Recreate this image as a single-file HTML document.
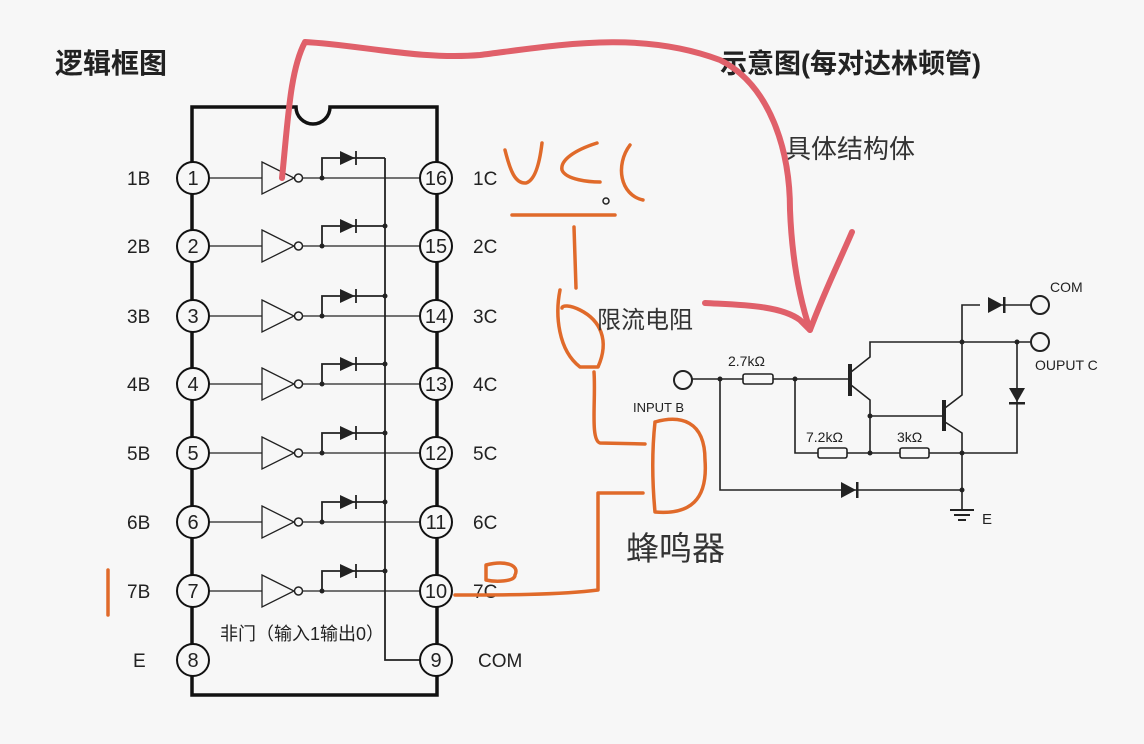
<!DOCTYPE html>
<html><head><meta charset="utf-8"><style>
html,body{margin:0;padding:0;background:#f7f7f7;}
svg{display:block;}
text{font-family:"Liberation Sans","Noto Sans CJK SC",sans-serif;}
</style></head><body>
<svg width="1144" height="744" viewBox="0 0 1144 744" xmlns="http://www.w3.org/2000/svg">
<rect width="1144" height="744" fill="#f7f7f7"/>
<defs>
<g id="gate" stroke="#222" fill="none">
<line x1="209" y1="0" x2="262" y2="0" stroke-width="1.3"/>
<polygon points="262,-16 294,0 262,16" stroke-width="1.3" fill="#f7f7f7"/>
<circle cx="298.5" cy="0" r="4" stroke-width="1.5" fill="#f7f7f7"/>
<line x1="302.5" y1="0" x2="420" y2="0" stroke-width="1.3"/>
<circle cx="322" cy="0" r="2.5" fill="#222" stroke="none"/>
<polyline points="322,0 322,-20 385,-20" stroke-width="1.8"/>
<polygon points="340,-27 340,-13 355,-20" fill="#222" stroke="none"/>
<line x1="356" y1="-27" x2="356" y2="-13" stroke-width="1.8"/>
</g>
</defs>
<!-- titles -->
<text x="55" y="73" font-size="28" font-weight="bold" fill="#222">逻辑框图</text>
<text x="720" y="73" font-size="27" font-weight="bold" fill="#222">示意图(每对达林顿管)</text>
<text x="785" y="158" font-size="26" fill="#333">具体结构体</text>
<!-- chip body -->
<path d="M192,107 L296,107 A17,17 0 0 0 330,107 L437,107 L437,695 L192,695 Z" fill="none" stroke="#111" stroke-width="3.5"/>
<!-- bus -->
<polyline points="385,158 385,660 420,660" fill="none" stroke="#222" stroke-width="1.8"/>
<use href="#gate" y="178"/>
<use href="#gate" y="246"/>
<use href="#gate" y="316"/>
<use href="#gate" y="384"/>
<use href="#gate" y="453"/>
<use href="#gate" y="522"/>
<use href="#gate" y="591"/>
<g fill="#222">
<circle cx="385" cy="226" r="2.5"/><circle cx="385" cy="296" r="2.5"/><circle cx="385" cy="364" r="2.5"/>
<circle cx="385" cy="433" r="2.5"/><circle cx="385" cy="502" r="2.5"/><circle cx="385" cy="571" r="2.5"/>
</g>
<!-- pin circles -->
<g fill="#f7f7f7" stroke="#111" stroke-width="2">
<circle cx="193" cy="178" r="16"/><circle cx="193" cy="246" r="16"/><circle cx="193" cy="316" r="16"/><circle cx="193" cy="384" r="16"/>
<circle cx="193" cy="453" r="16"/><circle cx="193" cy="522" r="16"/><circle cx="193" cy="591" r="16"/><circle cx="193" cy="660" r="16"/>
<circle cx="436" cy="178" r="16"/><circle cx="436" cy="246" r="16"/><circle cx="436" cy="316" r="16"/><circle cx="436" cy="384" r="16"/>
<circle cx="436" cy="453" r="16"/><circle cx="436" cy="522" r="16"/><circle cx="436" cy="591" r="16"/><circle cx="436" cy="660" r="16"/>
</g>
<g font-size="20" fill="#222" text-anchor="middle">
<text x="193" y="185">1</text><text x="193" y="253">2</text><text x="193" y="323">3</text><text x="193" y="391">4</text>
<text x="193" y="460">5</text><text x="193" y="529">6</text><text x="193" y="598">7</text><text x="193" y="667">8</text>
<text x="436" y="185">16</text><text x="436" y="253">15</text><text x="436" y="323">14</text><text x="436" y="391">13</text>
<text x="436" y="460">12</text><text x="436" y="529">11</text><text x="436" y="598">10</text><text x="436" y="667">9</text>
</g>
<g font-size="19" fill="#222">
<text x="127" y="185">1B</text><text x="127" y="253">2B</text><text x="127" y="323">3B</text><text x="127" y="391">4B</text>
<text x="127" y="460">5B</text><text x="127" y="529">6B</text><text x="127" y="598">7B</text><text x="133" y="667">E</text>
<text x="473" y="185">1C</text><text x="473" y="253">2C</text><text x="473" y="323">3C</text><text x="473" y="391">4C</text>
<text x="473" y="460">5C</text><text x="473" y="529">6C</text><text x="473" y="598">7C</text><text x="478" y="667">COM</text>
</g>
<text x="220" y="640" font-size="18" fill="#222">非门（输入1输出0）</text>
<!-- right schematic -->
<g stroke="#222" stroke-width="1.6" fill="none">
<circle cx="683" cy="380" r="9" stroke-width="2"/>
<line x1="692" y1="379" x2="743" y2="379"/>
<rect x="743" y="374" width="30" height="10" rx="2"/>
<line x1="773" y1="379" x2="848" y2="379"/>
<line x1="850" y1="364" x2="850" y2="396" stroke-width="4"/>
<polyline points="851,372 870,357 870,342 1030,342"/>
<polyline points="851,385 870,400 870,453"/>
<line x1="870" y1="416" x2="942" y2="416"/>
<line x1="944" y1="400" x2="944" y2="431" stroke-width="4"/>
<polyline points="945,408 962,395 962,305 980,305"/>
<line x1="1002" y1="305" x2="1031" y2="305"/>
<polyline points="945,422 962,433 962,510"/>
<polyline points="795,379 795,453 818,453"/>
<rect x="818" y="448" width="29" height="10" rx="2"/>
<line x1="847" y1="453" x2="900" y2="453"/>
<rect x="900" y="448" width="29" height="10" rx="2"/>
<polyline points="929,453 1017,453 1017,342"/>
<polyline points="720,379 720,490 962,490"/>
<circle cx="1040" cy="305" r="9" stroke-width="2"/>
<circle cx="1040" cy="342" r="9" stroke-width="2"/>
<line x1="950" y1="510" x2="974" y2="510" stroke-width="2"/>
<line x1="954" y1="515" x2="970" y2="515" stroke-width="2"/>
<line x1="958" y1="520" x2="966" y2="520" stroke-width="2"/>
</g>
<g fill="#222">
<polygon points="988,297 988,313 1003,305"/><rect x="1003" y="297" width="2.5" height="16"/>
<polygon points="1009,388 1025,388 1017,402"/><rect x="1009" y="402" width="16" height="2.5"/>
<polygon points="841,482 841,498 856,490"/><rect x="856" y="482" width="2.5" height="16"/>
<circle cx="720" cy="379" r="2.5"/><circle cx="795" cy="379" r="2.5"/><circle cx="870" cy="416" r="2.5"/>
<circle cx="870" cy="453" r="2.5"/><circle cx="962" cy="453" r="2.5"/><circle cx="962" cy="342" r="2.5"/>
<circle cx="1017" cy="342" r="2.5"/><circle cx="962" cy="490" r="2.5"/>
</g>
<g font-size="14" fill="#222">
<text x="728" y="366">2.7kΩ</text><text x="806" y="442">7.2kΩ</text><text x="897" y="442">3kΩ</text>
<text x="1050" y="292">COM</text><text x="1035" y="370">OUPUT C</text><text x="633" y="412" font-size="13">INPUT B</text>
<text x="982" y="524" font-size="15">E</text>
</g>
<!-- handwritten red -->
<g fill="none" stroke="#e0606a" stroke-width="6" stroke-linecap="round" stroke-linejoin="round">
<path d="M282,178 C288,120 290,70 305,42 C360,45 420,60 480,55 C560,45 640,30 720,60 C770,85 790,150 790,210 C792,260 800,300 810,330 C825,290 840,260 852,232"/>
<path d="M705,303 C740,305 780,305 800,320 L810,330"/>
</g>
<!-- handwritten orange -->
<g fill="none" stroke="#e06a2a" stroke-width="3.5" stroke-linecap="round" stroke-linejoin="round">
<path d="M505,150 C510,170 515,184 526,183 C536,180 540,160 542,143"/>
<path d="M597,143 C575,150 560,160 562,170 C566,180 590,182 600,182"/>
<path d="M630,145 C615,165 620,195 643,200"/>
<path d="M512,215 L615,215"/>
<path d="M574,227 L576,288"/>
<path d="M560,290 C555,315 558,350 580,367 L598,367 C610,340 600,320 580,310 C570,305 562,305 562,308"/>
<path d="M594,372 C596,400 590,440 600,443 L645,444"/>
<path d="M655,422 C680,415 705,420 705,460 C708,500 690,515 655,512 C652,480 652,450 655,422"/>
<path d="M643,493 L598,493 L598,590 C560,595 500,595 455,595"/>
<path d="M486,565 C505,560 520,565 515,575 C515,582 495,582 486,580 Z"/>
<path d="M108,570 L108,615"/>
</g>
<circle cx="606" cy="201" r="3" fill="none" stroke="#222" stroke-width="1.5"/>
<text x="597" y="328" font-size="24" fill="#333">限流电阻</text>
<text x="626" y="560" font-size="33" fill="#333">蜂鸣器</text>
</svg>
</body></html>
